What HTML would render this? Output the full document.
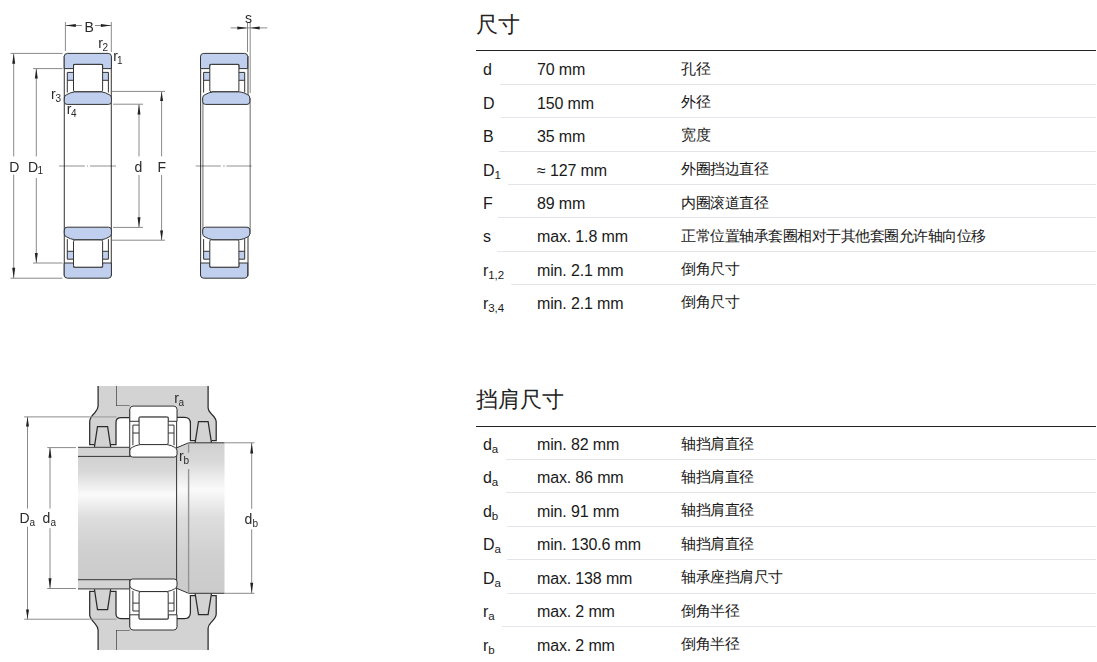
<!DOCTYPE html>
<html><head><meta charset="utf-8">
<style>
html,body{margin:0;padding:0;background:#fff;width:1097px;height:662px;overflow:hidden;position:relative}
body{font-family:"Liberation Sans",sans-serif;color:#222}
.h{position:absolute;left:476px;font-size:22px;line-height:26px;color:#222}
.hl{position:absolute;left:476px;width:620px;height:1px;background:#222}
.sep{position:absolute;right:1px;height:1px;background:#e2e5e9}
.t{position:absolute;font-size:16px;line-height:18px;letter-spacing:-0.15px;white-space:nowrap;color:#1a1a1a}
.cj{font-size:15px;letter-spacing:-0.5px;margin-top:-1.5px}
.c1{left:483px}.c2{left:537px}.c3{left:681px}
sub{font-size:11.5px;vertical-align:-3px;line-height:0;letter-spacing:0}
svg{position:absolute;left:0;top:0;will-change:transform}
</style></head><body>
<svg width="300" height="662" viewBox="0 0 300 662" style="font-family:'Liberation Sans',sans-serif">
<defs>
  <linearGradient id="shaft" x1="0" y1="0" x2="0" y2="1">
    <stop offset="0" stop-color="#d0d0d0"/>
    <stop offset="0.12" stop-color="#d8d8d8"/>
    <stop offset="0.31" stop-color="#fafafa"/>
    <stop offset="0.5" stop-color="#dddddd"/>
    <stop offset="0.75" stop-color="#d0d0d0"/>
    <stop offset="1" stop-color="#cbcbcb"/>
  </linearGradient>
  
</defs>
<style>
.fb{fill:var(--rf,#c0cfed);stroke:#333;stroke-width:1}
.fc{fill:var(--cf,#c0cfed);stroke:none}
.fr{fill:#fff;stroke:#333;stroke-width:1}
.s{stroke:#333;stroke-width:1;fill:none}
.s3{stroke:#2a2a2a;stroke-width:1.25;fill:none}
.dim{stroke:#8a8a8a;stroke-width:1;fill:none}
.cl{stroke:#000;stroke-opacity:.29;stroke-width:1.5;fill:none}
.ol{stroke:#444;stroke-width:1.1;fill:none}
.gl{stroke:#959595;stroke-width:1.4;fill:none}
.lab{font-size:14px;fill:#2a2a2a}
.sub{font-size:10px;fill:#2a2a2a}
.ar{fill:#222}
.hs{fill:#d3d3d3;stroke:none}
.w{--rf:#fff;--cf:#fff}
</style>

<!-- ===== Drawing 1 ===== -->
<path class="dim" d="M10.5,53.4 H62.5 M33,68.6 H62.5 M10.5,278.2 H62.5 M33,263 H62.5 M112,91.4 H165 M113,104.2 H143 M112,240.2 H165 M113,227.4 H143 M65.4,22 V51 M111.3,22 V52"/>
<path class="dim" d="M13.7,53.4 V156.4 M13.7,174.5 V278.2 M36.3,68.6 V156.4 M36.3,178 V263 M139,104.2 V156.4 M139,175 V227.4 M161.6,91.4 V156.4 M161.6,175 V240.2 M65.4,25.5 H82 M95,25.5 H111.3"/>
<g class="ar">
<path d="M13.7,53.4 L12.2,63.8 H15.2 Z"/><path d="M13.7,278.2 L12.2,267.8 H15.2 Z"/>
<path d="M36.3,68.6 L34.8,78.6 H37.8 Z"/><path d="M36.3,263 L34.8,253 H37.8 Z"/>
<path d="M139,104.2 L137.5,114.4 H140.5 Z"/><path d="M139,227.4 L137.5,217.2 H140.5 Z"/>
<path d="M161.6,91.4 L160.1,101.1 H163.1 Z"/><path d="M161.6,240.2 L160.1,230.5 H163.1 Z"/>
<path d="M65.4,25.5 L75.8,24 V27 Z"/><path d="M111.3,25.5 L100.9,24 V27 Z"/>
</g>
<path class="ol" d="M64.3,56 V276 M111.3,56 V276"/>
<path class="cl" d="M59,165.9 H85 M87,165.9 H88 M90,165.9 H116"/>
<g>
    <path d="M64.2,68.6 V56.6 Q64.2,53.4 67.4,53.4 H108.2 Q111.4,53.4 111.4,56.6 V68.6 H102.6 V64.4 H73.5 V68.6 Z" class="fb"/>
    <rect x="67.3" y="72.4" width="6.2" height="7.9" class="fc"/>
    <rect x="102.6" y="72.4" width="5.8" height="7.9" class="fc"/>
    <path d="M67.3,92.5 V72.4 H73.5 M67.3,80.3 H73.5 M108.4,92.5 V72.4 H102.6 M108.4,80.3 H102.6" class="s"/>
    <rect x="73.5" y="64.4" width="29.1" height="27.4" rx="1.6" class="fr"/>
  </g><g><path d="M64.3,98 Q64.3,95.2 66.8,94.6 Q70,92.6 74.5,91.9 H101.6 Q106,92.6 109,94.6 Q111.4,95.2 111.4,98 V101.6 Q111.4,104.4 108.6,104.4 H67.1 Q64.3,104.4 64.3,101.6 Z" class="fb"/></g>
<g transform="matrix(1,0,0,-1,0,331.6)"><g>
    <path d="M64.2,68.6 V56.6 Q64.2,53.4 67.4,53.4 H108.2 Q111.4,53.4 111.4,56.6 V68.6 H102.6 V64.4 H73.5 V68.6 Z" class="fb"/>
    <rect x="67.3" y="72.4" width="6.2" height="7.9" class="fc"/>
    <rect x="102.6" y="72.4" width="5.8" height="7.9" class="fc"/>
    <path d="M67.3,92.5 V72.4 H73.5 M67.3,80.3 H73.5 M108.4,92.5 V72.4 H102.6 M108.4,80.3 H102.6" class="s"/>
    <rect x="73.5" y="64.4" width="29.1" height="27.4" rx="1.6" class="fr"/>
  </g><g><path d="M64.3,98 Q64.3,95.2 66.8,94.6 Q70,92.6 74.5,91.9 H101.6 Q106,92.6 109,94.6 Q111.4,95.2 111.4,98 V101.6 Q111.4,104.4 108.6,104.4 H67.1 Q64.3,104.4 64.3,101.6 Z" class="fb"/></g></g>

<text class="lab" x="9.3" y="171.5">D</text>
<text class="lab" x="28" y="171.5">D</text><text class="sub" x="37.6" y="173.6">1</text>
<text class="lab" x="134.5" y="171.5">d</text>
<text class="lab" x="157.6" y="171.5">F</text>
<text class="lab" x="84.5" y="31.9">B</text>
<text class="lab" x="98.2" y="48">r</text><text class="sub" x="102.4" y="51.3">2</text>
<text class="lab" x="113.2" y="61">r</text><text class="sub" x="117" y="64.2">1</text>
<text class="lab" x="51" y="99">r</text><text class="sub" x="55.4" y="102.3">3</text>
<text class="lab" x="66.7" y="114">r</text><text class="sub" x="71" y="117.2">4</text>

<!-- ===== Drawing 2 ===== -->
<path class="dim" d="M247.5,22 V52 M250.2,22 V93 M230.7,27.9 H267.2"/>
<g class="ar"><path d="M247.5,27.9 L237.3,26.4 V29.4 Z"/><path d="M250.2,27.9 L259.7,26.4 V29.4 Z"/></g>
<path class="ol" d="M200.6,56 V276 M248,56 V96 M248,236 V276"/>
<path class="gl" d="M202.9,98 V234 M250.2,98 V234"/>
<path class="cl" d="M195.7,165.9 H220.8 M223.2,165.9 H224.7 M226.4,165.9 H251.6"/>
<g transform="translate(136.3,0)">
    <path d="M64.2,68.6 V56.6 Q64.2,53.4 67.4,53.4 H108.2 Q111.4,53.4 111.4,56.6 V68.6 H102.6 V64.4 H73.5 V68.6 Z" class="fb"/>
    <rect x="67.3" y="72.4" width="6.2" height="7.9" class="fc"/>
    <rect x="102.6" y="72.4" width="5.8" height="7.9" class="fc"/>
    <path d="M67.3,92.5 V72.4 H73.5 M67.3,80.3 H73.5 M108.4,92.5 V72.4 H102.6 M108.4,80.3 H102.6" class="s"/>
    <rect x="73.5" y="64.4" width="29.1" height="27.4" rx="1.6" class="fr"/>
  </g><g transform="translate(138.4,0)"><path d="M64.3,98 Q64.3,95.2 66.8,94.6 Q70,92.6 74.5,91.9 H101.6 Q106,92.6 109,94.6 Q111.4,95.2 111.4,98 V101.6 Q111.4,104.4 108.6,104.4 H67.1 Q64.3,104.4 64.3,101.6 Z" class="fb"/></g>
<g transform="matrix(1,0,0,-1,0,331.6)"><g transform="translate(136.3,0)">
    <path d="M64.2,68.6 V56.6 Q64.2,53.4 67.4,53.4 H108.2 Q111.4,53.4 111.4,56.6 V68.6 H102.6 V64.4 H73.5 V68.6 Z" class="fb"/>
    <rect x="67.3" y="72.4" width="6.2" height="7.9" class="fc"/>
    <rect x="102.6" y="72.4" width="5.8" height="7.9" class="fc"/>
    <path d="M67.3,92.5 V72.4 H73.5 M67.3,80.3 H73.5 M108.4,92.5 V72.4 H102.6 M108.4,80.3 H102.6" class="s"/>
    <rect x="73.5" y="64.4" width="29.1" height="27.4" rx="1.6" class="fr"/>
  </g><g transform="translate(138.4,0)"><path d="M64.3,98 Q64.3,95.2 66.8,94.6 Q70,92.6 74.5,91.9 H101.6 Q106,92.6 109,94.6 Q111.4,95.2 111.4,98 V101.6 Q111.4,104.4 108.6,104.4 H67.1 Q64.3,104.4 64.3,101.6 Z" class="fb"/></g></g>
<text class="lab" x="245" y="23">s</text>

<!-- ===== Drawing 3 ===== -->
<g>
  <!-- spacer band -->
  <rect x="78" y="447.1" width="52" height="9.3" class="hs"/>
  <!-- housing + right cap -->
  <path class="hs" d="M116,386 H208.1 V407.9 Q208.1,410.5 211,413.5 Q216.2,418.5 216.2,422 V440.5 H211.5 L211.5,442.8 H195.1 V440.5 H190.4 V423.5 Q190.4,417.4 184.5,417.4 H176.6 V406.1 H116 Z"/>
  <path class="s3" d="M208.1,386 V407.9 Q208.1,410.5 211,413.5 Q216.2,418.5 216.2,422 V440.5 H211.5 M195.1,440.5 H190.4 V423.5 Q190.4,417.4 184.5,417.4 H176.6 M116,386 V406.1 H129.7"/>
  <path class="s3" d="M195.1,442.8 L198.5,421.5 H208.1 L211.5,442.8"/>
  <!-- left cap -->
  <path class="hs" d="M98.1,386 V406 Q98.1,409 95,412.5 Q89.7,418 89.7,421.3 V444.7 H94.4 V447.1 H110.7 V444.7 H116 V422 Q116,417.5 121.2,417.5 H129.7 V406.1 H116 V386 Z"/>
  <path class="s3" d="M98.1,386 V406 Q98.1,409 95,412.5 Q89.7,418 89.7,421.3 V444.7 H94.4 M110.7,444.7 H116 V422 Q116,417.5 121.2,417.5 H129.7"/>
  <path class="s3" d="M94.4,447.1 L97.5,426.5 H107.6 L110.7,447.1"/>
</g>
<g transform="matrix(1,0,0,-1,0,1036.1)"><g>
  <!-- spacer band -->
  <rect x="78" y="447.1" width="52" height="9.3" class="hs"/>
  <!-- housing + right cap -->
  <path class="hs" d="M116,386 H208.1 V407.9 Q208.1,410.5 211,413.5 Q216.2,418.5 216.2,422 V440.5 H211.5 L211.5,442.8 H195.1 V440.5 H190.4 V423.5 Q190.4,417.4 184.5,417.4 H176.6 V406.1 H116 Z"/>
  <path class="s3" d="M208.1,386 V407.9 Q208.1,410.5 211,413.5 Q216.2,418.5 216.2,422 V440.5 H211.5 M195.1,440.5 H190.4 V423.5 Q190.4,417.4 184.5,417.4 H176.6 M116,386 V406.1 H129.7"/>
  <path class="s3" d="M195.1,442.8 L198.5,421.5 H208.1 L211.5,442.8"/>
  <!-- left cap -->
  <path class="hs" d="M98.1,386 V406 Q98.1,409 95,412.5 Q89.7,418 89.7,421.3 V444.7 H94.4 V447.1 H110.7 V444.7 H116 V422 Q116,417.5 121.2,417.5 H129.7 V406.1 H116 V386 Z"/>
  <path class="s3" d="M98.1,386 V406 Q98.1,409 95,412.5 Q89.7,418 89.7,421.3 V444.7 H94.4 M110.7,444.7 H116 V422 Q116,417.5 121.2,417.5 H129.7"/>
  <path class="s3" d="M94.4,447.1 L97.5,426.5 H107.6 L110.7,447.1"/>
</g></g>
<!-- shaft -->
<rect x="78" y="456.4" width="98.6" height="123.3" fill="url(#shaft)"/>
<path d="M176.6,447.8 L188.6,442.8 H224.5 V593.3 H188.6 L176.6,588.3 Z" fill="url(#shaft)"/>
<path class="s" d="M78,456.4 H176.6 M78,579.7 H176.6 M176.6,446 V590 M176.6,447.8 L188.6,442.8 H224.5 M176.6,588.3 L188.6,593.3 H224.5"/>
<path d="M78,447.3 H129.7 M78,588.8 H129.7" stroke="#5a5a5a" stroke-width="1.2"/>
<path class="gl" d="M188.6,442.8 V452.7 M188.6,468.9 V593.3"/>
<!-- bearing -->
<path class="ol" d="M129.7,409 V456.3 M129.7,579.8 V627 M176.6,409 V446 M176.6,590 V627"/>
<g class="w">
<g transform="translate(65.6,352.7)">
    <path d="M64.2,68.6 V56.6 Q64.2,53.4 67.4,53.4 H108.2 Q111.4,53.4 111.4,56.6 V68.6 H102.6 V64.4 H73.5 V68.6 Z" class="fb"/>
    <rect x="67.3" y="72.4" width="6.2" height="7.9" class="fc"/>
    <rect x="102.6" y="72.4" width="5.8" height="7.9" class="fc"/>
    <path d="M67.3,92.5 V72.4 H73.5 M67.3,80.3 H73.5 M108.4,92.5 V72.4 H102.6 M108.4,80.3 H102.6" class="s"/>
    <rect x="73.5" y="64.4" width="29.1" height="27.4" rx="1.6" class="fr"/>
  </g><g transform="translate(65.6,352.7)"><path d="M64.3,98 Q64.3,95.2 66.8,94.6 Q70,92.6 74.5,91.9 H101.6 Q106,92.6 109,94.6 Q111.4,95.2 111.4,98 V101.6 Q111.4,104.4 108.6,104.4 H67.1 Q64.3,104.4 64.3,101.6 Z" class="fb"/></g>
<g transform="matrix(1,0,0,-1,65.6,683.4)"><g>
    <path d="M64.2,68.6 V56.6 Q64.2,53.4 67.4,53.4 H108.2 Q111.4,53.4 111.4,56.6 V68.6 H102.6 V64.4 H73.5 V68.6 Z" class="fb"/>
    <rect x="67.3" y="72.4" width="6.2" height="7.9" class="fc"/>
    <rect x="102.6" y="72.4" width="5.8" height="7.9" class="fc"/>
    <path d="M67.3,92.5 V72.4 H73.5 M67.3,80.3 H73.5 M108.4,92.5 V72.4 H102.6 M108.4,80.3 H102.6" class="s"/>
    <rect x="73.5" y="64.4" width="29.1" height="27.4" rx="1.6" class="fr"/>
  </g><g><path d="M64.3,98 Q64.3,95.2 66.8,94.6 Q70,92.6 74.5,91.9 H101.6 Q106,92.6 109,94.6 Q111.4,95.2 111.4,98 V101.6 Q111.4,104.4 108.6,104.4 H67.1 Q64.3,104.4 64.3,101.6 Z" class="fb"/></g></g>
</g>
<!-- dims -->
<path class="dim" d="M24.2,416.9 H89.7 M24.2,619.2 H89.7 M47.3,447.6 H75.9 M47.3,588.5 H75.9 M224.5,442.8 H254.4 M224.5,593.3 H254.4 M27.5,416.9 V508.6 M27.5,526.7 V619.2 M50,447.6 V508.6 M50,528.2 V588.5 M251.7,442.8 V508.9 M251.7,529.3 V593.3"/>
<path d="M89.7,416.9 H116.5 M89.7,619.2 H116.5" stroke="#999" stroke-width="1"/>
<g class="ar">
<path d="M27.5,416.9 L26,426.5 H29 Z"/><path d="M27.5,619.2 L26,609.6 H29 Z"/>
<path d="M50,447.6 L48.5,457.8 H51.5 Z"/><path d="M50,588.5 L48.5,578.3 H51.5 Z"/>
<path d="M251.7,442.8 L250.2,453.4 H253.2 Z"/><path d="M251.7,593.3 L250.2,582.7 H253.2 Z"/>
</g>
<text class="lab" x="19.5" y="523.1">D</text><text class="sub" x="29.6" y="525.8">a</text>
<text class="lab" x="42.5" y="523.1">d</text><text class="sub" x="50.6" y="525.8">a</text>
<text class="lab" x="244.6" y="524">d</text><text class="sub" x="252.6" y="526.6">b</text>
<text class="lab" x="174.3" y="403">r</text><text class="sub" x="178.6" y="406">a</text>
<text class="lab" x="179" y="461">r</text><text class="sub" x="183.4" y="463.7">b</text>
</svg>
<div class="h" style="top:12px">尺寸</div><div class="hl" style="top:50px"></div>
<div class="t c1" style="top:61px">d</div><div class="t c2" style="top:61px">70 mm</div><div class="t c3 cj" style="top:61px">孔径</div>
<div class="t c1" style="top:94.6px">D</div><div class="t c2" style="top:94.6px">150 mm</div><div class="t c3 cj" style="top:94.6px">外径</div>
<div class="t c1" style="top:127.9px">B</div><div class="t c2" style="top:127.9px">35 mm</div><div class="t c3 cj" style="top:127.9px">宽度</div>
<div class="t c1" style="top:161.6px">D<sub>1</sub></div><div class="t c2" style="top:161.6px">≈ 127 mm</div><div class="t c3 cj" style="top:161.6px">外圈挡边直径</div>
<div class="t c1" style="top:195px">F</div><div class="t c2" style="top:195px">89 mm</div><div class="t c3 cj" style="top:195px">内圈滚道直径</div>
<div class="t c1" style="top:228.2px">s</div><div class="t c2" style="top:228.2px">max. 1.8 mm</div><div class="t c3 cj" style="top:228.2px">正常位置轴承套圈相对于其他套圈允许轴向位移</div>
<div class="t c1" style="top:261.6px">r<sub>1,2</sub></div><div class="t c2" style="top:261.6px">min. 2.1 mm</div><div class="t c3 cj" style="top:261.6px">倒角尺寸</div>
<div class="t c1" style="top:294.9px">r<sub>3,4</sub></div><div class="t c2" style="top:294.9px">min. 2.1 mm</div><div class="t c3 cj" style="top:294.9px">倒角尺寸</div>
<div class="sep" style="top:84px;left:500px"></div>
<div class="sep" style="top:117px;left:501px"></div>
<div class="sep" style="top:151px;left:499px"></div>
<div class="sep" style="top:184px;left:508px"></div>
<div class="sep" style="top:217px;left:498px"></div>
<div class="sep" style="top:251px;left:497px"></div>
<div class="sep" style="top:284px;left:511px"></div>
<div class="h" style="top:387px">挡肩尺寸</div><div class="hl" style="top:426px"></div>
<div class="t c1" style="top:436px">d<sub>a</sub></div><div class="t c2" style="top:436px">min. 82 mm</div><div class="t c3 cj" style="top:436px">轴挡肩直径</div>
<div class="t c1" style="top:469.4px">d<sub>a</sub></div><div class="t c2" style="top:469.4px">max. 86 mm</div><div class="t c3 cj" style="top:469.4px">轴挡肩直径</div>
<div class="t c1" style="top:502.8px">d<sub>b</sub></div><div class="t c2" style="top:502.8px">min. 91 mm</div><div class="t c3 cj" style="top:502.8px">轴挡肩直径</div>
<div class="t c1" style="top:536.2px">D<sub>a</sub></div><div class="t c2" style="top:536.2px">min. 130.6 mm</div><div class="t c3 cj" style="top:536.2px">轴挡肩直径</div>
<div class="t c1" style="top:569.6px">D<sub>a</sub></div><div class="t c2" style="top:569.6px">max. 138 mm</div><div class="t c3 cj" style="top:569.6px">轴承座挡肩尺寸</div>
<div class="t c1" style="top:603.2px">r<sub>a</sub></div><div class="t c2" style="top:603.2px">max. 2 mm</div><div class="t c3 cj" style="top:603.2px">倒角半径</div>
<div class="t c1" style="top:636.6px">r<sub>b</sub></div><div class="t c2" style="top:636.6px">max. 2 mm</div><div class="t c3 cj" style="top:636.6px">倒角半径</div>
<div class="sep" style="top:459px;left:506px"></div>
<div class="sep" style="top:492px;left:506px"></div>
<div class="sep" style="top:526px;left:507px"></div>
<div class="sep" style="top:559px;left:507px"></div>
<div class="sep" style="top:593px;left:507px"></div>
<div class="sep" style="top:626px;left:502px"></div>
</body></html>
